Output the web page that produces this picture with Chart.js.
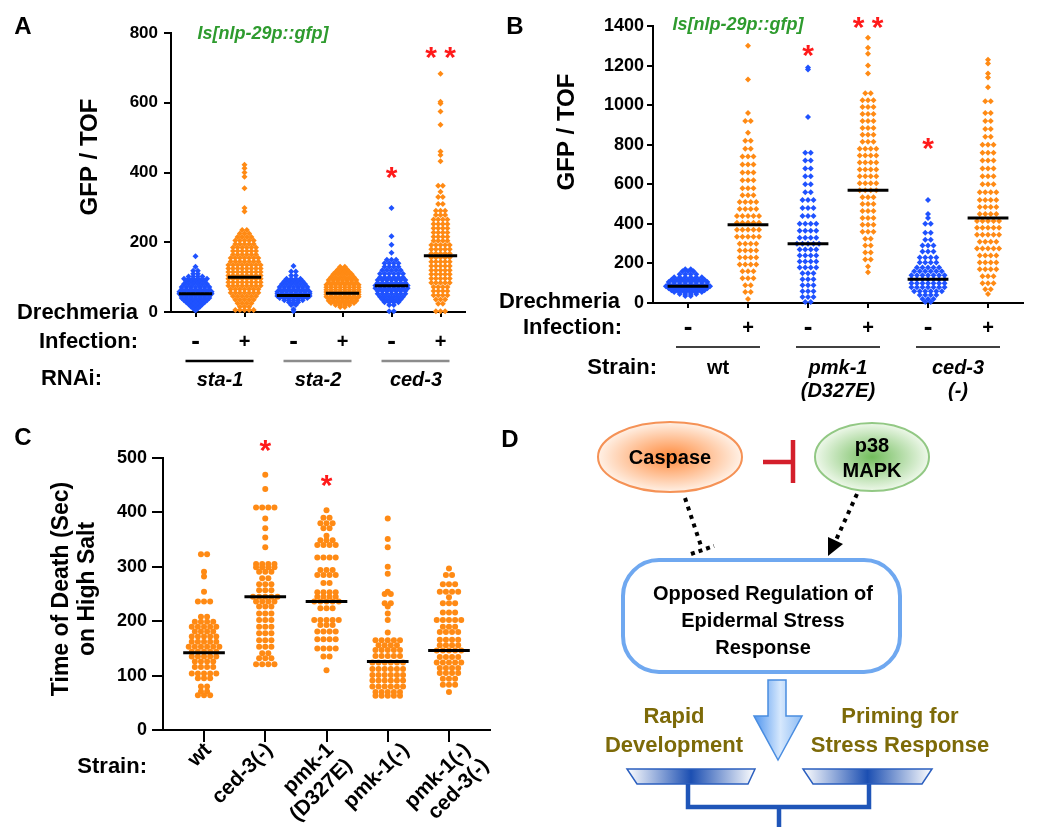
<!DOCTYPE html>
<html>
<head>
<meta charset="utf-8">
<script src="https://cdn.jsdelivr.net/npm/chart.js@4.4.1/dist/chart.umd.min.js"></script>
<style>
  html, body { margin: 0; padding: 0; background: #fff; width: 1050px; height: 832px; overflow: hidden; }
  .panel { position: absolute; }
  #panelD { position: absolute; left: 0; top: 0; pointer-events: none; }
</style>
</head>
<body>
<div class="panel" style="left:0;top:0;width:470px;height:400px"><canvas id="chartA" width="470" height="400"></canvas></div>
<div class="panel" style="left:470px;top:0;width:580px;height:420px"><canvas id="chartB" width="580" height="420"></canvas></div>
<div class="panel" style="left:0;top:420px;width:500px;height:412px"><canvas id="chartC" width="500" height="412"></canvas></div>

<svg id="panelD" width="1050" height="832" viewBox="0 0 1050 832" font-family="'Liberation Sans', Arial, sans-serif" font-weight="bold">
  <defs>
    <radialGradient id="gCasp"><stop offset="0" stop-color="#ff8a3c"/><stop offset="1" stop-color="#fff1e6"/></radialGradient>
    <radialGradient id="gP38"><stop offset="0" stop-color="#72bd5c"/><stop offset="1" stop-color="#eef8ea"/></radialGradient>
    <linearGradient id="gArrow" x1="0" y1="0" x2="1" y2="0">
      <stop offset="0" stop-color="#4f95ef"/><stop offset="0.55" stop-color="#d6e8fd"/><stop offset="1" stop-color="#8dbcf4"/>
    </linearGradient>
    <linearGradient id="gPan" x1="0" y1="0" x2="1" y2="0">
      <stop offset="0" stop-color="#ffffff"/><stop offset="0.5" stop-color="#1c4fb2"/><stop offset="1" stop-color="#ffffff"/>
    </linearGradient>
  </defs>
  <text x="510" y="447" font-size="24" text-anchor="middle">D</text>
  <ellipse cx="670" cy="457" rx="72" ry="35" fill="url(#gCasp)" stroke="#f59256" stroke-width="2"/>
  <text x="670" y="464" font-size="20" text-anchor="middle">Caspase</text>
  <path d="M763 462 H793 M793 440 V483" stroke="#d41f2b" stroke-width="4.5" fill="none"/>
  <ellipse cx="872" cy="457" rx="57" ry="34" fill="url(#gP38)" stroke="#92c884" stroke-width="2"/>
  <text x="872" y="452" font-size="20" text-anchor="middle">p38</text>
  <text x="872" y="477" font-size="20" text-anchor="middle">MAPK</text>
  <path d="M685 498 L702 549" stroke="#000" stroke-width="4" stroke-dasharray="4 5" fill="none"/>
  <path d="M691 554 L714 546" stroke="#000" stroke-width="4" stroke-dasharray="4 4" fill="none"/>
  <path d="M857 494 L836 540" stroke="#000" stroke-width="4" stroke-dasharray="4 5" fill="none"/>
  <polygon points="828,556 843,544 828,537" fill="#000"/>
  <rect x="623" y="560" width="277" height="112" rx="36" ry="36" fill="#fff" stroke="#6fa8f0" stroke-width="4"/>
  <text x="763" y="600" font-size="20" text-anchor="middle">Opposed Regulation of</text>
  <text x="763" y="627" font-size="20" text-anchor="middle">Epidermal Stress</text>
  <text x="763" y="654" font-size="20" text-anchor="middle">Response</text>
  <path d="M768 680 H786 V716 H802 L778 760 L754 716 H768 Z" fill="url(#gArrow)" stroke="#4a8de0" stroke-width="1.5"/>
  <g fill="#7d6a08" font-size="22" text-anchor="middle">
    <text x="674" y="723">Rapid</text>
    <text x="674" y="752">Development</text>
    <text x="900" y="723">Priming for</text>
    <text x="900" y="752">Stress Response</text>
  </g>
  <polygon points="627,769 755,769 748,784 637,784" fill="url(#gPan)" stroke="#2b5fbf" stroke-width="1.5"/>
  <polygon points="803,769 932,769 922,784 813,784" fill="url(#gPan)" stroke="#2b5fbf" stroke-width="1.5"/>
  <path d="M688 784 V807 H869 V784 M779 807 V827" stroke="#1f55b8" stroke-width="4.5" fill="none"/>
</svg>

<script>
// ---------- Panel A : GFP / TOF, RNAi strains ----------
// each group is a list of [value, number of animals drawn at that value]
const aInfection = ['-', '+', '-', '+', '-', '+'];
const aRnai = ['sta-1', 'sta-2', 'ced-3'];
const aTicks = [0, 200, 400, 600, 800];
const aMeans = [52, 100, 47, 54, 75, 161];
const aStars = ['', '', '', '', '*', '**'];
const aStarAt = [0, 0, 0, 0, 402, 746];
const aSta1Neg = [[160,1],[130,1],[118,2],[110,2],[102,4],[95,6],[88,5],[80,6],[72,7],[65,7],[58,8],[52,8],[46,7],[40,7],[34,6],[28,5],[22,4],[16,3],[10,2],[4,1]];
const aSta1Pos = [[422,1],[412,1],[400,1],[388,1],[355,1],[298,1],[288,1],[235,2],[225,3],[215,4],[205,5],[195,5],[185,6],[175,6],[165,6],[155,7],[145,7],[135,8],[125,8],[115,8],[105,8],[95,8],[85,8],[75,8],[65,7],[55,7],[45,6],[35,5],[25,4],[15,3],[6,5]];
const aSta2Neg = [[132,1],[116,2],[105,2],[95,4],[88,5],[80,6],[72,7],[65,7],[58,8],[52,8],[46,8],[40,7],[34,5],[28,3],[20,2],[8,1],[2,1]];
const aSta2Pos = [[130,2],[122,3],[115,4],[108,5],[100,6],[92,7],[85,7],[78,8],[71,8],[64,8],[57,8],[50,8],[44,8],[38,7],[32,7],[26,6],[20,4],[14,2]];
const aCed3Neg = [[298,1],[217,1],[193,1],[170,1],[150,3],[140,4],[130,4],[120,5],[110,6],[100,6],[92,7],[84,7],[76,8],[68,8],[60,7],[52,7],[44,6],[36,5],[28,4],[20,2],[2,2]];
const aCed3Pos = [[683,1],[603,1],[598,1],[575,1],[537,1],[460,1],[450,1],[432,1],[362,2],[345,1],[330,2],[310,2],[290,3],[278,3],[265,4],[252,4],[240,4],[228,4],[216,4],[204,4],[192,5],[180,5],[168,5],[156,5],[144,5],[132,5],[120,5],[108,5],[96,5],[84,5],[72,4],[60,4],[48,4],[36,3],[24,2],[2,3]];

// ---------- Panel B : GFP / TOF, strains ----------
const bInfection = ['-', '+', '-', '+', '-', '+'];
const bStrains = [['wt'], ['pmk-1', '(D327E)'], ['ced-3', '(-)']];
const bTicks = [0, 200, 400, 600, 800, 1000, 1200, 1400];
const bMeans = [85, 395, 300, 570, 120, 430];
const bStars = ['', '', '*', '**', '*', ''];
const bStarAt = [0, 0, 1280, 1420, 810, 0];
const bWtNeg = [[170,2],[160,3],[145,4],[130,6],[118,7],[106,8],[95,8],[85,9],[75,8],[65,7],[55,6],[45,4],[35,2]];
const bWtPos = [[1300,1],[1130,1],[960,1],[920,2],[860,1],[820,2],[780,2],[740,3],[700,3],[660,3],[620,3],[580,3],[545,3],[510,4],[475,4],[440,5],[405,5],[370,5],[335,5],[300,4],[265,4],[230,4],[195,4],[160,3],[125,3],[90,2],[55,2],[20,1]];
const bPmkNeg = [[1190,1],[1180,1],[940,1],[760,2],[720,2],[680,2],[640,2],[600,2],[560,2],[520,3],[480,3],[440,3],[400,4],[365,4],[330,4],[300,5],[270,4],[240,4],[210,4],[180,4],[150,3],[120,3],[90,3],[60,3],[30,3],[5,2]];
const bPmkPos = [[1340,1],[1290,1],[1260,1],[1200,1],[1160,1],[1060,2],[1025,3],[990,3],[955,3],[920,3],[885,3],[850,3],[815,3],[780,4],[745,4],[710,4],[675,4],[640,4],[605,4],[570,4],[535,3],[500,3],[465,3],[430,3],[395,3],[360,3],[325,2],[290,2],[255,2],[220,2],[185,1],[155,1]];
const bCedNeg = [[520,1],[450,1],[430,1],[400,2],[355,2],[320,2],[290,3],[260,3],[230,4],[205,4],[180,5],[160,6],[140,7],[120,7],[100,7],[80,7],[60,6],[40,4],[20,3],[5,2]];
const bCedPos = [[1230,1],[1210,1],[1160,1],[1140,1],[1090,1],[1020,2],[960,2],[920,2],[880,2],[840,2],[800,3],[760,3],[720,3],[680,3],[640,3],[600,3],[560,4],[520,4],[485,4],[450,4],[415,5],[380,5],[345,5],[310,4],[275,5],[240,4],[205,4],[170,4],[135,3],[100,3],[70,2],[45,1]];

// ---------- Panel C : time of death on high salt ----------
const cStrains = [['wt'], ['ced-3(-)'], ['pmk-1', '(D327E)'], ['pmk-1(-)'], ['pmk-1(-)', 'ced-3(-)']];
const cTicks = [0, 100, 200, 300, 400, 500];
const cMeans = [142, 245, 236, 126, 146];
const cStars = ['', '*', '*', '', ''];
const cStarAt = [0, 524, 460, 0, 0];
const cWt = [[323,2],[291,1],[282,1],[254,1],[236,3],[208,2],[199,4],[190,5],[181,4],[172,5],[162,5],[153,6],[144,5],[135,5],[126,4],[116,4],[104,5],[95,3],[80,2],[71,2],[64,3]];
const cCed3 = [[469,1],[443,1],[409,4],[389,1],[371,1],[354,1],[336,1],[305,4],[299,4],[291,3],[279,2],[268,3],[257,3],[245,5],[236,4],[227,3],[214,3],[202,3],[190,3],[178,3],[165,3],[153,3],[141,2],[132,3],[121,4]];
const cPmkD = [[404,1],[390,2],[380,3],[371,2],[357,1],[349,3],[340,4],[317,4],[294,3],[285,4],[270,2],[253,4],[245,4],[236,5],[224,3],[202,5],[193,3],[181,4],[167,4],[150,4],[135,2],[110,1]];
const cPmk = [[389,1],[351,1],[336,1],[300,1],[287,1],[254,1],[250,2],[233,2],[227,1],[214,1],[202,1],[179,1],[165,5],[156,4],[147,5],[136,5],[124,6],[112,6],[101,6],[91,6],[80,6],[70,5],[63,5]];
const cPmkCed3 = [[297,1],[285,2],[268,3],[254,4],[244,1],[233,3],[216,3],[202,5],[190,3],[180,4],[166,4],[156,4],[146,5],[134,4],[124,5],[114,4],[105,4],[94,3],[83,3],[70,1]];

const FONT = "'Liberation Sans', Arial, Helvetica, sans-serif";
const BLUE = '#1f52ff';
const ORANGE = '#ff8a14';
const GREEN = '#2e9b2e';
const RED = '#ff1a1a';

Chart.defaults.font.family = FONT;
Chart.defaults.color = '#000';
Chart.defaults.animation = false;

// spread the animals of one row sideways around the group centre
function swarm(rows, g, dx) {
  const pts = [];
  rows.forEach(function(r) {
    for (let k = 0; k < r[1]; k++) pts.push({ x: g + (k - (r[1] - 1) / 2) * dx, y: r[0] });
  });
  return pts;
}

function groupSets(groups, means, colors, dx, half, radius, style) {
  const sets = [];
  groups.forEach(function(rows, i) {
    sets.push({
      type: 'scatter', data: swarm(rows, i + 1, dx), backgroundColor: colors[i], borderWidth: 0,
      pointRadius: radius, pointHoverRadius: radius, pointStyle: style, clip: false, order: 1
    });
    sets.push({
      type: 'line', data: [{ x: i + 1 - half, y: means[i] }, { x: i + 1 + half, y: means[i] }],
      borderColor: '#000', borderWidth: 3, pointRadius: 0, showLine: true, clip: false, order: 0
    });
  });
  return sets;
}

function scales(o) {
  return {
    x: {
      type: 'linear', min: o.xmin, max: o.xmax,
      afterBuildTicks: function(s) { s.ticks = o.groups.map(function(g, i) { return { value: i + 1 }; }); },
      afterFit: function(s) { s.height = o.xh; },
      ticks: { display: false },
      grid: { drawOnChartArea: false, drawTicks: true, tickLength: o.xtick, color: '#000', lineWidth: 2 },
      border: { color: '#000', width: 2 }
    },
    y: {
      type: 'linear', min: 0, max: o.yticks[o.yticks.length - 1],
      afterBuildTicks: function(s) { s.ticks = o.yticks.map(function(v) { return { value: v }; }); },
      afterFit: function(s) { s.width = o.yw; },
      ticks: { font: { size: o.fsize, weight: 'bold' }, padding: o.pad, color: '#000', callback: function(v) { return String(v); } },
      grid: { drawOnChartArea: false, drawTicks: true, tickLength: o.ytick, color: '#000', lineWidth: 2 },
      border: { color: '#000', width: 2 }
    }
  };
}

function txt(ctx, s, x, y, font, color, align, rot) {
  ctx.save();
  ctx.font = font;
  ctx.fillStyle = color || '#000';
  ctx.textAlign = align || 'center';
  ctx.textBaseline = 'middle';
  ctx.translate(x, y);
  if (rot) ctx.rotate(rot);
  ctx.fillText(s, 0, 0);
  ctx.restore();
}

function hline(ctx, x1, x2, y, color, w) {
  ctx.save();
  ctx.strokeStyle = color;
  ctx.lineWidth = w;
  ctx.beginPath(); ctx.moveTo(x1, y); ctx.lineTo(x2, y); ctx.stroke();
  ctx.restore();
}

function drawStars(ctx, s, x, y) {
  for (let k = 0; k < s.length; k++) {
    txt(ctx, '*', x + (k - (s.length - 1) / 2) * 19, y + 7, 'bold 30px ' + FONT, RED);
  }
}

const baseOptions = function(sc, pad) {
  return {
    responsive: false, events: [],
    layout: { padding: pad },
    plugins: { legend: { display: false }, tooltip: { enabled: false } },
    scales: sc
  };
};

// ---------- chart A ----------
const panelAText = {
  id: 'panelAText',
  afterDraw: function(chart) {
    const ctx = chart.ctx, x = chart.scales.x, y = chart.scales.y;
    const px = function(i) { return x.getPixelForValue(i + 1); };
    txt(ctx, 'A', 23, 27, 'bold 24px ' + FONT);
    txt(ctx, 'Is[nlp-29p::gfp]', 263, 34, 'italic bold 18px ' + FONT, GREEN);
    txt(ctx, 'GFP / TOF', 90, 157, 'bold 24px ' + FONT, '#000', 'center', -Math.PI / 2);
    txt(ctx, 'Drechmeria', 138, 313, 'bold 22px ' + FONT, '#000', 'right');
    txt(ctx, 'Infection:', 138, 342, 'bold 22px ' + FONT, '#000', 'right');
    txt(ctx, 'RNAi:', 102, 379, 'bold 22px ' + FONT, '#000', 'right');
    aInfection.forEach(function(s, i) { txt(ctx, s, px(i), 342, 'bold ' + (s === '-' ? 26 : 20) + 'px ' + FONT); });
    aRnai.forEach(function(g, j) {
      hline(ctx, px(2 * j) - 10, px(2 * j + 1) + 9, 361, j ? '#8c8c8c' : '#000', 2.5);
      txt(ctx, g, (px(2 * j) + px(2 * j + 1)) / 2, 380, 'italic bold 20px ' + FONT);
    });
    aStars.forEach(function(s, i) { if (s) drawStars(ctx, s, px(i), y.getPixelForValue(aStarAt[i])); });
  }
};

new Chart(document.getElementById('chartA'), {
  type: 'scatter',
  data: { datasets: groupSets([aSta1Neg, aSta1Pos, aSta2Neg, aSta2Pos, aCed3Neg, aCed3Pos], aMeans,
    aInfection.map(function(s) { return s === '-' ? BLUE : ORANGE; }), 0.094, 0.34, 3, 'rectRot') },
  options: baseOptions(scales({ groups: aInfection, xmin: 0.5, xmax: 6.5, xh: 88, xtick: 5, yticks: aTicks, yw: 171, fsize: 17, pad: 6, ytick: 7 }),
    { left: 0, top: 33, right: 5, bottom: 0 }),
  plugins: [panelAText]
});

// ---------- chart B ----------
const panelBText = {
  id: 'panelBText',
  afterDraw: function(chart) {
    const ctx = chart.ctx, x = chart.scales.x, y = chart.scales.y;
    const px = function(i) { return x.getPixelForValue(i + 1); };
    txt(ctx, 'B', 45, 27, 'bold 24px ' + FONT);
    txt(ctx, 'Is[nlp-29p::gfp]', 268, 25, 'italic bold 18px ' + FONT, GREEN);
    txt(ctx, 'GFP / TOF', 97, 132, 'bold 24px ' + FONT, '#000', 'center', -Math.PI / 2);
    txt(ctx, 'Drechmeria', 150, 302, 'bold 22px ' + FONT, '#000', 'right');
    txt(ctx, 'Infection:', 152, 328, 'bold 22px ' + FONT, '#000', 'right');
    txt(ctx, 'Strain:', 187, 368, 'bold 22px ' + FONT, '#000', 'right');
    bInfection.forEach(function(s, i) { txt(ctx, s, px(i), 328, 'bold ' + (s === '-' ? 26 : 20) + 'px ' + FONT); });
    bStrains.forEach(function(lines, j) {
      const cx = (px(2 * j) + px(2 * j + 1)) / 2;
      hline(ctx, px(2 * j) - 12, px(2 * j + 1) + 12, 347, '#000', 1.5);
      lines.forEach(function(l, k) {
        txt(ctx, l, cx, 368 + k * 23, (j ? 'italic ' : '') + 'bold 20px ' + FONT);
      });
    });
    bStars.forEach(function(s, i) { if (s) drawStars(ctx, s, px(i), y.getPixelForValue(bStarAt[i])); });
  }
};

new Chart(document.getElementById('chartB'), {
  type: 'scatter',
  data: { datasets: groupSets([bWtNeg, bWtPos, bPmkNeg, bPmkPos, bCedNeg, bCedPos], bMeans,
    bInfection.map(function(s) { return s === '-' ? BLUE : ORANGE; }), 0.092, 0.34, 3, 'rectRot') },
  options: baseOptions(scales({ groups: bInfection, xmin: 0.417, xmax: 6.583, xh: 117, xtick: 5, yticks: bTicks, yw: 183, fsize: 18, pad: 3, ytick: 6 }),
    { left: 0, top: 26, right: 27, bottom: 0 }),
  plugins: [panelBText]
});

// ---------- chart C ----------
// rotated strain names sit with their end just under the tick; the last two are nudged right like the figure
const cLabelNudge = [0, 0, 0, 14, 14];
const panelCText = {
  id: 'panelCText',
  afterDraw: function(chart) {
    const ctx = chart.ctx, x = chart.scales.x, y = chart.scales.y;
    const px = function(i) { return x.getPixelForValue(i + 1); };
    txt(ctx, 'C', 23, 18, 'bold 24px ' + FONT);
    txt(ctx, 'Time of Death (Sec)', 62, 169, 'bold 23px ' + FONT, '#000', 'center', -Math.PI / 2);
    txt(ctx, 'on High Salt', 88, 169, 'bold 23px ' + FONT, '#000', 'center', -Math.PI / 2);
    txt(ctx, 'Strain:', 147, 347, 'bold 22px ' + FONT, '#000', 'right');
    cStrains.forEach(function(lines, i) {
      ctx.save();
      ctx.translate(px(i) + 4 + cLabelNudge[i], 327);
      ctx.rotate(-Math.PI / 4);
      ctx.font = 'bold 21px ' + FONT;
      ctx.fillStyle = '#000';
      ctx.textAlign = 'right';
      ctx.textBaseline = 'middle';
      lines.forEach(function(l, k) { ctx.fillText(l, k * 2, k * 24); });
      ctx.restore();
    });
    cStars.forEach(function(s, i) { if (s) drawStars(ctx, s, px(i), y.getPixelForValue(cStarAt[i])); });
  }
};

new Chart(document.getElementById('chartC'), {
  type: 'scatter',
  data: { datasets: groupSets([cWt, cCed3, cPmkD, cPmk, cPmkCed3], cMeans,
    cStrains.map(function() { return ORANGE; }), 0.1, 0.34, 3, 'circle') },
  options: baseOptions(scales({ groups: cStrains, xmin: 0.33, xmax: 5.67, xh: 102, xtick: 12, yticks: cTicks, yw: 163, fsize: 18, pad: 5, ytick: 11 }),
    { left: 0, top: 38, right: 10, bottom: 0 }),
  plugins: [panelCText]
});
</script>
</body>
</html>
